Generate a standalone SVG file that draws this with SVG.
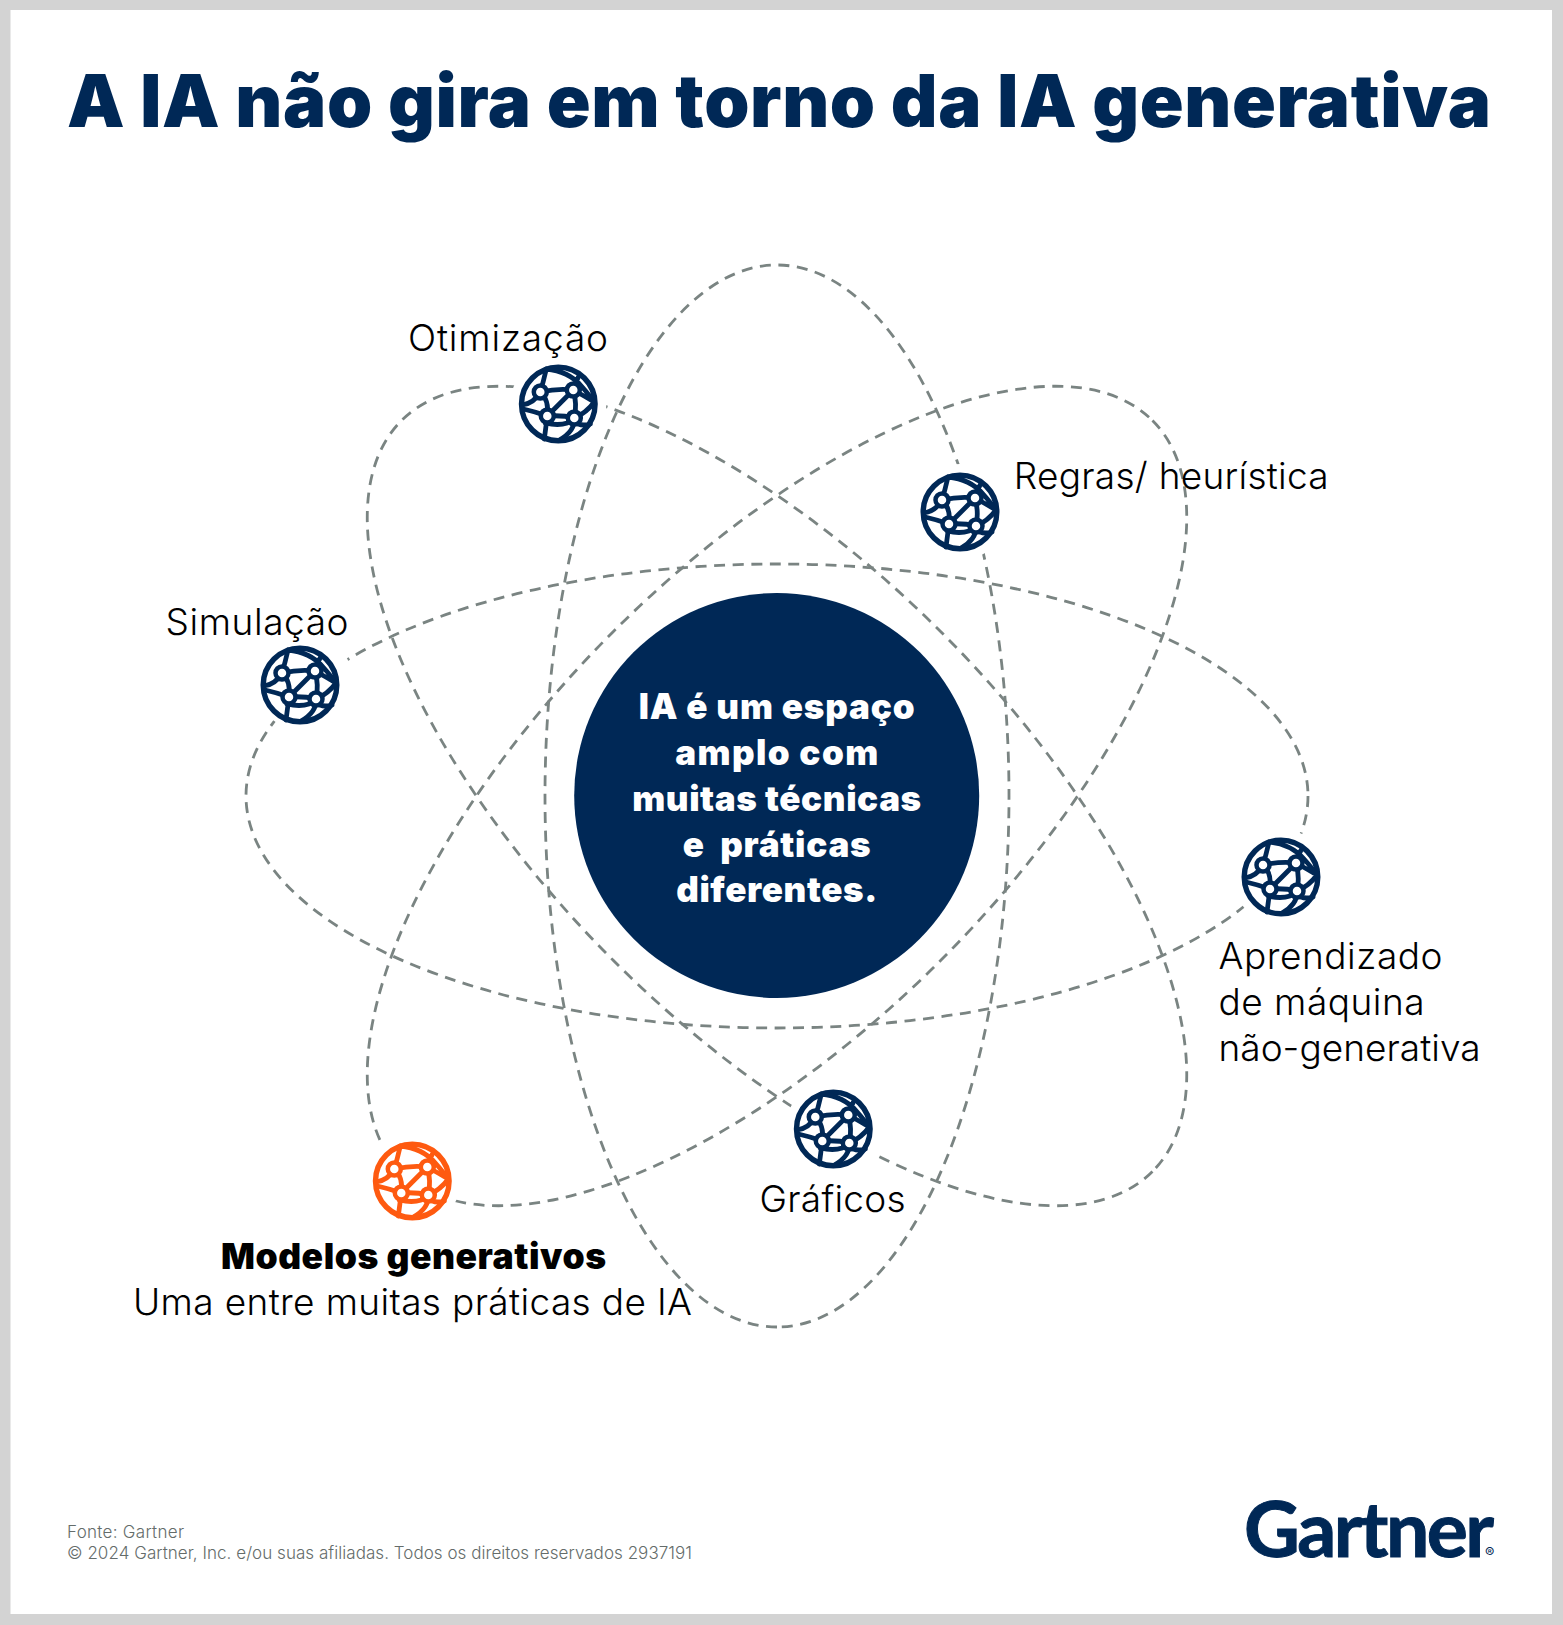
<svg xmlns="http://www.w3.org/2000/svg" xmlns:xlink="http://www.w3.org/1999/xlink" width="1563" height="1625" viewBox="0 0 1563 1625">
<style>
text{font-family:Inter,"Liberation Sans",sans-serif}
.orbit{fill:none;stroke:#7a8482;stroke-width:2.8;stroke-dasharray:11 7.6}
.lab{font-size:37px;font-weight:300;fill:#000}
.ctr{font-size:35px;font-weight:900;fill:#fff;text-anchor:middle}
.foot{font-size:17px;font-weight:300;fill:#646c6a}
.halo{fill:#fff}
.navy{color:#002856}
.orange{color:#fe5a10}
</style>
<defs>
<g id="ic" fill="none" stroke="currentColor" stroke-width="4.800" stroke-linecap="round" stroke-linejoin="round">
<circle r="36.800" stroke-width="5.400" fill="#fff"/>
<path d="M-12-35Q-15-22-18-12M-18-12Q-24-1-36 1M-12-35Q10-33 23-18Q31-9 36-2M15-14L20-27M15-14Q26-8 36-2M16 14Q28 9 36-2M-18-12Q0-16 15-14M-18-12Q-9-4-11 12M15-14L-11 12M15-14Q19 0 16 14M-11 12Q4 11 16 14M-11 12Q-22 8-35 5M-11 12L-14 35M-13 19Q0 22 9 19M16 14Q17 27 1 36M20 20Q25 22 32 20"/>
<g fill="#fff" stroke-width="4.500"><circle cx="-18" cy="-12" r="6.500"/><circle cx="15" cy="-14" r="6.500"/><circle cx="-11" cy="12" r="6.500"/><circle cx="16" cy="14" r="6.500"/></g>
</g>
</defs>
<rect width="1563" height="1625" fill="#d3d3d3"/>
<rect x="10.500" y="10" width="1541.500" height="1604" fill="#fff"/>
<text id="title" x="67" y="126.700" font-size="72.500" font-weight="900" fill="#002856" textLength="1424">A IA não gira em torno da IA generativa</text>
<g id="connectors">
<ellipse class="orbit" cx="777" cy="796" rx="531" ry="232"/>
<ellipse class="orbit" cx="777" cy="796" rx="531" ry="232" transform="rotate(90 777 796)"/>
<ellipse class="orbit" cx="777" cy="796" rx="531" ry="232" transform="rotate(45 777 796)"/>
<ellipse class="orbit" cx="777" cy="796" rx="531" ry="232" transform="rotate(-45 777 796)"/>
</g>
<g id="center">
<circle cx="776.700" cy="795.500" r="202.500" fill="#002856"/>
<text class="ctr" x="776.700" y="718.500" textLength="276">IA é um espaço</text>
<text class="ctr" x="776.700" y="765" textLength="203">amplo com</text>
<text class="ctr" x="776.700" y="810.700" textLength="289">muitas técnicas</text>
<text class="ctr" x="776.700" y="856.700" textLength="188" xml:space="preserve">e  práticas</text>
<text class="ctr" x="776.700" y="901.700" textLength="201">diferentes.</text>
</g>
<g id="otimizacao" class="navy">
<circle class="halo" cx="558.300" cy="404" r="48"/>
<use href="#ic" xlink:href="#ic" x="558.300" y="404"/>
<text class="lab" x="408" y="351" textLength="200">Otimização</text>
</g>
<g id="regras" class="navy">
<circle class="halo" cx="960" cy="512" r="48"/>
<use href="#ic" xlink:href="#ic" x="960" y="512"/>
<text class="lab" x="1013.700" y="489" textLength="315">Regras/ heurística</text>
</g>
<g id="simulacao" class="navy">
<circle class="halo" cx="304" cy="682" r="49"/>
<use href="#ic" xlink:href="#ic" x="300" y="685"/>
<text class="lab" x="165.500" y="635" textLength="183">Simulação</text>
</g>
<g id="aprendizado" class="navy">
<circle class="halo" cx="1281" cy="877" r="48"/>
<use href="#ic" xlink:href="#ic" x="1281" y="877"/>
<text class="lab" x="1218.500" y="969" textLength="224">Aprendizado</text>
<text class="lab" x="1218.500" y="1015" textLength="206">de máquina</text>
<text class="lab" x="1218.500" y="1061" textLength="262">não-generativa</text>
</g>
<g id="graficos" class="navy">
<circle class="halo" cx="833.300" cy="1129" r="48"/>
<use href="#ic" xlink:href="#ic" x="833.300" y="1129"/>
<text class="lab" x="759.500" y="1212" textLength="146">Gráficos</text>
</g>
<g id="modelos" class="orange">
<circle class="halo" cx="412.300" cy="1181" r="48"/>
<use href="#ic" xlink:href="#ic" x="412.300" y="1181"/>
<text x="221" y="1269" font-size="35.500" font-weight="900" fill="#000" textLength="385">Modelos generativos</text>
<text class="lab" x="133" y="1315" textLength="559">Uma entre muitas práticas de IA</text>
</g>
<g id="footer">
<text class="foot" x="67" y="1538" textLength="117">Fonte: Gartner</text>
<text class="foot" x="67" y="1558.500" textLength="625">© 2024 Gartner, Inc. e/ou suas afiliadas. Todos os direitos reservados 2937191</text>
</g>
<g id="logo" fill="#002856">
<text x="1244" y="1557" font-size="77" font-weight="700" stroke="#002856" stroke-width="1" style="font-family:Lato,Inter,sans-serif" textLength="250">Gartner</text>
<text x="1485" y="1558" font-size="14" font-weight="400">®</text>
</g>
</svg>
